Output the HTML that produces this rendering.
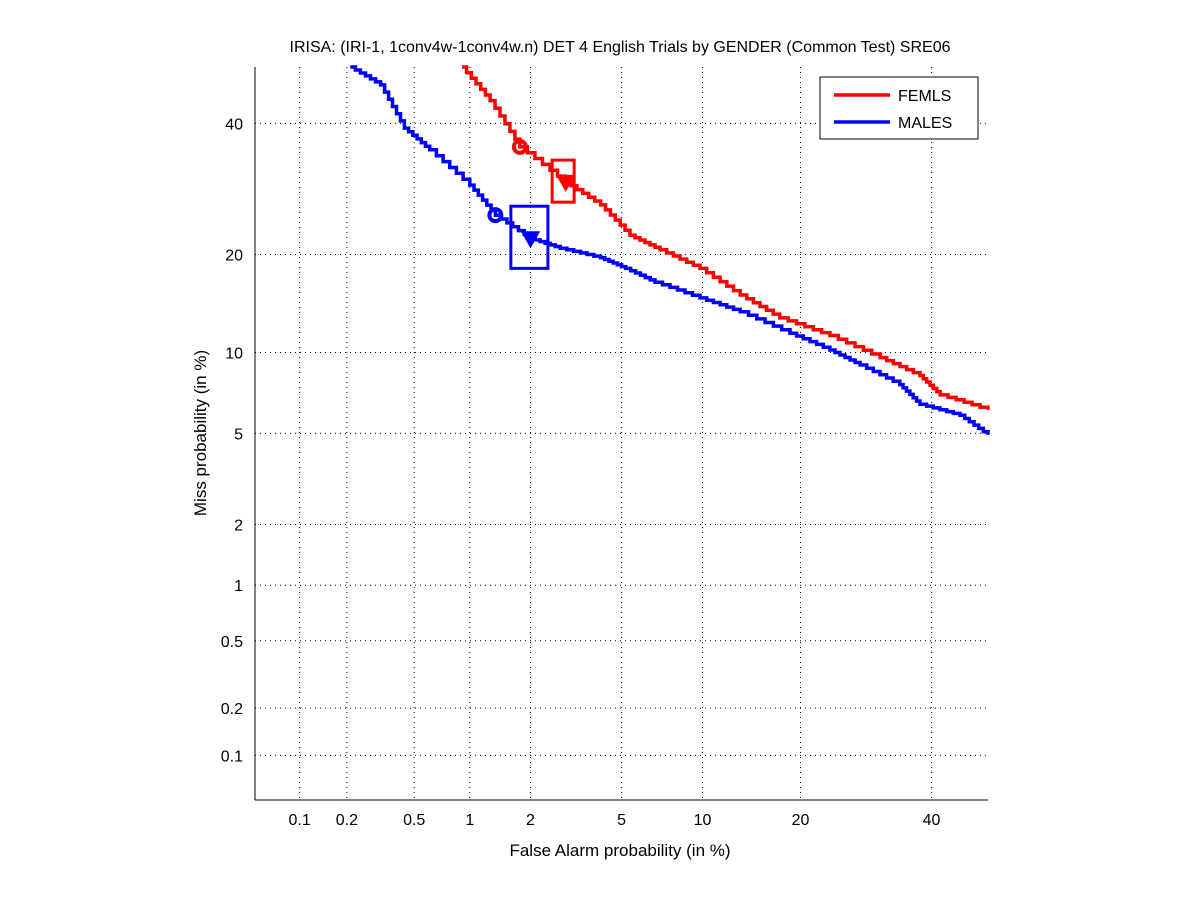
<!DOCTYPE html>
<html><head><meta charset="utf-8"><style>
body{margin:0;background:#fff;}
svg{display:block;font-family:"Liberation Sans",sans-serif;}
</style></head><body>
<svg id="chart" width="1201" height="900" viewBox="0 0 1201 900"></svg>
<script>
const tickValues=[0.1,0.2,0.5,1,2,5,10,20,40];
const tickLabels=["0.1","0.2","0.5","1","2","5","10","20","40"];
const femFA=[0.91,1.27,1.78,2.88,4.1,5.4,7.05,9.8,13.3,17.5,23.9,31.4,38,41.5,50];
const femMiss=[50,44,36,30.3,26.8,22.5,20.6,18.3,15.3,13,11.4,9.6,8.3,7.05,6.2];
const maleFA=[0.21,0.32,0.44,0.61,1.0,1.35,1.99,2.74,4.1,5.2,6.75,9.8,13.3,18.7,23.9,28.3,34.6,38,45,50];
const maleMiss=[50,46.8,39.2,35.5,29.8,25.3,22.1,20.8,19.6,18.3,16.7,15,13.6,11.6,10.2,9.05,7.7,6.5,5.9,4.93];
const femCircle=[1.78,36];const femTri=[2.9,30.3];const femBox=[2.52,3.16,27.2,33.8];
const maleCircle=[1.35,25.3];const maleTri=[2.0,22.1];const maleBox=[1.61,2.41,18.3,26.6];

function probit(p){
 const a=[-39.69683028665376,220.9460984245205,-275.9285104469687,138.3577518672690,-30.66479806614716,2.506628277459239];
 const b=[-54.47609879822406,161.5858368580409,-155.6989798598866,66.80131188771688,-13.28068155288572];
 const c=[-0.007784894002430293,-0.3223964580411365,-2.400758277161838,-2.549732539343734,4.374664141464968,2.938163982698783];
 const d=[0.007784695709041462,0.3224671290700398,2.445134137142996,3.754408661907416];
 const pl=0.02425;let q,r;
 if(p<pl){q=Math.sqrt(-2*Math.log(p));return (((((c[0]*q+c[1])*q+c[2])*q+c[3])*q+c[4])*q+c[5])/((((d[0]*q+d[1])*q+d[2])*q+d[3])*q+1);}
 if(p<=1-pl){q=p-0.5;r=q*q;return (((((a[0]*r+a[1])*r+a[2])*r+a[3])*r+a[4])*r+a[5])*q/(((((b[0]*r+b[1])*r+b[2])*r+b[3])*r+b[4])*r+1);}
 q=Math.sqrt(-2*Math.log(1-p));return -(((((c[0]*q+c[1])*q+c[2])*q+c[3])*q+c[4])*q+c[5])/((((d[0]*q+d[1])*q+d[2])*q+d[3])*q+1);
}
const L=255,R=988,T=67,B=800;
const zmin=probit(0.0005),zmax=0;
const sx=v=>L+(probit(Math.min(v,50)/100)-zmin)/(zmax-zmin)*(R-L);
const sy=v=>B-(probit(Math.min(v,50)/100)-zmin)/(zmax-zmin)*(B-T);
const svg=document.getElementById('chart');const NS='http://www.w3.org/2000/svg';
function mk(t,at,txt){const e=document.createElementNS(NS,t);for(const k in at)e.setAttribute(k,at[k]);if(txt!==undefined)e.textContent=txt;svg.appendChild(e);return e;}
let e;
e=mk('rect',{x:L,y:T,width:R-L,height:B-T,fill:'#fff',stroke:'none'});

tickValues.forEach((v,i)=>{
 const x=sx(v),y=sy(v);
 e=mk('line',{x1:x,y1:T,x2:x,y2:B,stroke:'#000','stroke-dasharray':'1,4','stroke-width':1});
 
 e=mk('line',{x1:L,y1:y,x2:R,y2:y,stroke:'#000','stroke-dasharray':'1,4','stroke-width':1});
 
 e=mk('text',{x:x,y:B+25,'text-anchor':'middle','font-size':16},tickLabels[i]);
 
 e=mk('text',{x:L-12,y:y+6,'text-anchor':'end','font-size':16},tickLabels[i]);
 
});
e=mk('line',{x1:L,y1:T,x2:L,y2:B,stroke:'#000'});
e=mk('line',{x1:L,y1:B,x2:R,y2:B,stroke:'#000'});
function stair(fa,miss,color,name){
 let d='M'+sx(fa[0])+' '+sy(miss[0]);
 for(let i=1;i<fa.length;i++){const x0=sx(fa[i-1]),x1=sx(fa[i]),y0=sy(miss[i-1]),y1=sy(miss[i]);
  const n=6;for(let k=1;k<=n;k++){const xa=x0+(x1-x0)*k/n,ya=y0+(y1-y0)*k/n;d+=' H'+xa.toFixed(1)+' V'+ya.toFixed(1);}}
 e=mk('path',{d:d,fill:'none',stroke:color,'stroke-width':3.5});
 
}
stair(femFA,femMiss,'#f00','femls-curve');
stair(maleFA,maleMiss,'#00f','males-curve');
function marks(c,t,bx,color,p){
 e=mk('circle',{cx:sx(c[0]),cy:sy(c[1]),r:6,fill:'none',stroke:color,'stroke-width':4});
 
 const tx=sx(t[0]),ty=sy(t[1]);
 e=mk('path',{d:`M${tx-8} ${ty-6} L${tx+8} ${ty-6} L${tx} ${ty+8} Z`,fill:color,stroke:color,'stroke-width':2});
 
 const x0=sx(bx[0]),x1=sx(bx[1]),y0=sy(bx[3]),y1=sy(bx[2]);
 e=mk('rect',{x:x0,y:y0,width:x1-x0,height:y1-y0,fill:'none',stroke:color,'stroke-width':3});
 
}
marks(femCircle,femTri,femBox,'#f00','femls');
marks(maleCircle,maleTri,maleBox,'#00f','males');
e=mk('rect',{x:820,y:77,width:158,height:62,fill:'#fff',stroke:'#000'});
e=mk('line',{x1:834,y1:95,x2:890,y2:95,stroke:'#f00','stroke-width':3.5});
e=mk('text',{x:898,y:101,'font-size':16},'FEMLS');
e=mk('line',{x1:834,y1:122,x2:890,y2:122,stroke:'#00f','stroke-width':3.5});
e=mk('text',{x:898,y:128,'font-size':16},'MALES');
e=mk('text',{x:620,y:52,'text-anchor':'middle','font-size':16},'IRISA: (IRI-1, 1conv4w-1conv4w.n) DET 4 English Trials by GENDER (Common Test) SRE06');

e=mk('text',{x:620,y:856,'text-anchor':'middle','font-size':17},'False Alarm probability (in %)');

e=mk('text',{x:0,y:0,'text-anchor':'middle','font-size':17,transform:'translate(206,433) rotate(-90)'},'Miss probability (in %)');

</script>
</body></html>
